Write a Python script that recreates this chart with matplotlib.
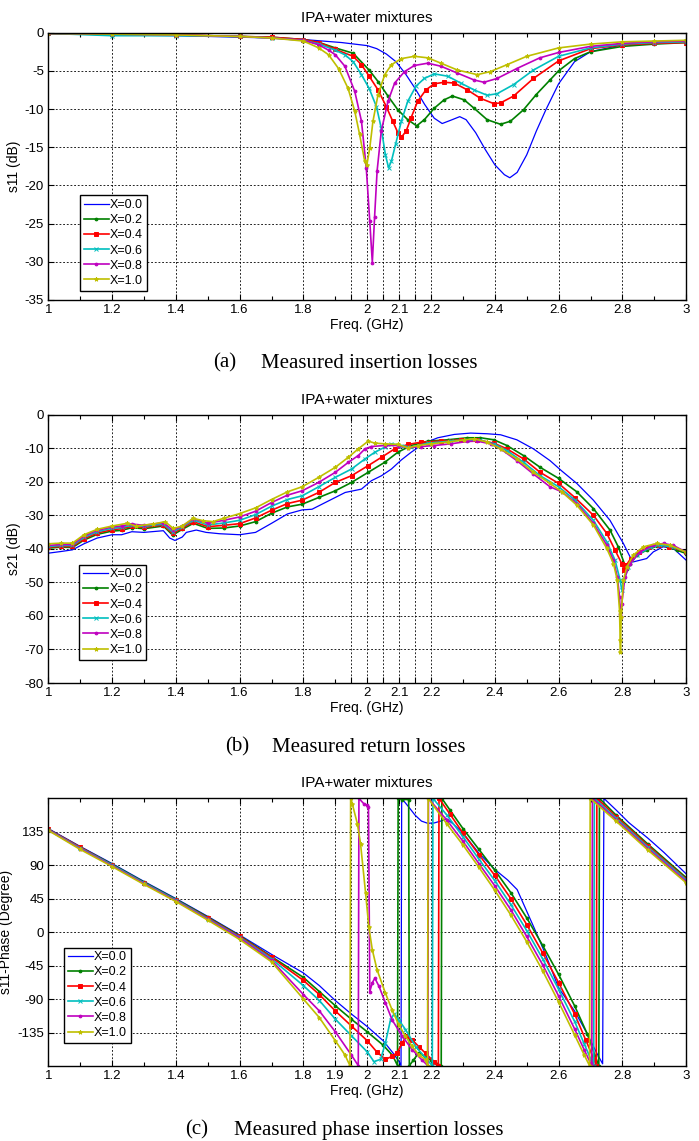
import matplotlib
matplotlib.use("Agg")
import matplotlib.pyplot as plt
from matplotlib.ticker import FixedLocator

plt.rcParams['font.family'] = ['Liberation Sans', 'DejaVu Sans']

LABELS = ["X=0.0", "X=0.2", "X=0.4", "X=0.6", "X=0.8", "X=1.0"]
COLORS = ["#0000ff", "#008000", "#ff0000", "#00bfbf", "#bf00bf", "#bfbf00"]
MARKERS = [None, ".", "s", "x", ".", "*"]

# ---------------- (a) s11 magnitude (dB) ----------------
A_F0 = [1.0, 1.2, 1.4, 1.6, 1.7, 1.8, 1.86, 1.92, 1.96, 2.0, 2.03, 2.06, 2.09, 2.12, 2.15, 2.18, 2.21, 2.235, 2.26, 2.29, 2.31, 2.34, 2.37, 2.40, 2.43, 2.447, 2.47, 2.50, 2.53, 2.56, 2.60, 2.65, 2.70, 2.80, 2.90, 3.0]
A_V0 = [-0.1, -0.3, -0.4, -0.6, -0.7, -0.9, -1.1, -1.3, -1.5, -1.7, -2.1, -2.8, -3.8, -5.4, -7.3, -9.4, -11.2, -11.9, -11.5, -11.0, -11.4, -13.1, -15.3, -17.3, -18.6, -19.0, -18.3, -16.0, -12.9, -10.1, -6.7, -3.8, -2.5, -1.6, -1.3, -1.2]
A_F2 = [1.0, 1.2, 1.4, 1.6, 1.7, 1.8, 1.85, 1.9, 1.956, 2.006, 2.034, 2.065, 2.096, 2.127, 2.155, 2.179, 2.21, 2.241, 2.267, 2.304, 2.335, 2.376, 2.418, 2.449, 2.49, 2.53, 2.573, 2.6, 2.65, 2.7, 2.8, 2.9, 3.0]
A_V2 = [-0.1, -0.2, -0.3, -0.5, -0.6, -0.9, -1.3, -2.0, -2.7, -4.9, -6.4, -8.3, -10.1, -11.4, -12.2, -11.4, -9.9, -8.8, -8.3, -8.8, -9.9, -11.4, -12.0, -11.6, -10.1, -8.1, -6.2, -5.0, -3.4, -2.5, -1.8, -1.5, -1.3]
A_F4 = [1.0, 1.2, 1.4, 1.6, 1.7, 1.8, 1.85, 1.9, 1.956, 1.982, 2.006, 2.034, 2.06, 2.08, 2.096, 2.107, 2.122, 2.137, 2.158, 2.184, 2.21, 2.241, 2.273, 2.314, 2.355, 2.397, 2.418, 2.459, 2.521, 2.6, 2.7, 2.8, 2.9, 3.0]
A_V4 = [-0.1, -0.2, -0.3, -0.5, -0.6, -0.9, -1.3, -2.2, -3.1, -4.2, -5.7, -7.5, -9.7, -11.6, -13.1, -13.7, -12.9, -11.2, -9.0, -7.5, -6.7, -6.5, -6.6, -7.5, -8.6, -9.3, -9.2, -8.3, -6.0, -3.7, -2.1, -1.6, -1.4, -1.3]
A_F6 = [1.0, 1.2, 1.4, 1.6, 1.7, 1.8, 1.85, 1.9, 1.93, 1.956, 1.982, 2.006, 2.029, 2.044, 2.057, 2.067, 2.076, 2.089, 2.107, 2.127, 2.153, 2.179, 2.21, 2.252, 2.293, 2.335, 2.376, 2.407, 2.459, 2.521, 2.6, 2.7, 2.8, 2.9, 3.0]
A_V6 = [-0.1, -0.4, -0.4, -0.5, -0.7, -1.0, -1.5, -2.3, -2.9, -3.8, -5.5, -7.3, -9.7, -12.5, -16.0, -17.7, -16.8, -14.6, -11.6, -9.0, -7.0, -6.0, -5.4, -5.7, -6.6, -7.5, -8.2, -8.0, -6.8, -4.9, -3.1, -2.0, -1.5, -1.3, -1.2]
A_F8 = [1.0, 1.2, 1.4, 1.6, 1.7, 1.8, 1.848, 1.879, 1.9, 1.93, 1.961, 1.982, 1.997, 2.008, 2.016, 2.023, 2.031, 2.044, 2.065, 2.086, 2.117, 2.148, 2.19, 2.231, 2.283, 2.335, 2.366, 2.407, 2.469, 2.541, 2.6, 2.7, 2.8, 2.9, 3.0]
A_V8 = [-0.1, -0.2, -0.3, -0.5, -0.7, -1.0, -1.6, -2.3, -2.9, -4.4, -7.7, -11.6, -17.7, -24.7, -30.1, -24.2, -18.1, -12.9, -9.0, -6.6, -5.1, -4.3, -4.0, -4.4, -5.3, -6.2, -6.5, -6.0, -4.7, -3.3, -2.6, -1.8, -1.4, -1.2, -1.1]
A_F10 = [1.0, 1.2, 1.4, 1.6, 1.7, 1.8, 1.848, 1.879, 1.91, 1.94, 1.961, 1.976, 1.992, 1.999, 2.008, 2.018, 2.034, 2.055, 2.076, 2.107, 2.148, 2.19, 2.231, 2.283, 2.345, 2.386, 2.438, 2.5, 2.6, 2.7, 2.8, 2.9, 3.0]
A_V10 = [-0.1, -0.2, -0.3, -0.5, -0.7, -1.1, -2.0, -2.9, -4.7, -7.3, -10.3, -13.3, -16.8, -17.3, -15.1, -11.6, -8.1, -5.5, -4.2, -3.4, -3.1, -3.3, -4.0, -4.9, -5.5, -5.1, -4.2, -3.1, -2.0, -1.5, -1.2, -1.1, -1.0]

# ---------------- (b) s21 magnitude (dB) ----------------
B_F0 = [1.0, 1.04, 1.076, 1.112, 1.153, 1.2, 1.23, 1.262, 1.3, 1.361, 1.381, 1.397, 1.42, 1.433, 1.464, 1.495, 1.537, 1.6, 1.65, 1.7, 1.75, 1.796, 1.827, 1.879, 1.931, 1.982, 2.013, 2.045, 2.076, 2.107, 2.138, 2.179, 2.221, 2.273, 2.324, 2.376, 2.418, 2.469, 2.521, 2.573, 2.61, 2.657, 2.709, 2.761, 2.803, 2.824, 2.834, 2.855, 2.876, 2.897, 2.928, 2.96, 3.0]
B_V0 = [-41.3, -40.8, -40.3, -38.5, -36.8, -35.8, -35.8, -34.9, -35.1, -34.6, -36.8, -37.5, -36.5, -35.1, -34.4, -35.1, -35.5, -35.8, -35.1, -32.4, -29.6, -28.4, -28.2, -25.7, -23.2, -22.2, -19.7, -18.2, -16.2, -13.5, -11.2, -8.5, -6.9, -5.9, -5.5, -5.7, -6.0, -7.5, -10.2, -13.7, -16.8, -20.5, -25.5, -31.5, -38.4, -42.4, -43.9, -43.4, -42.9, -40.9, -39.4, -39.9, -43.4]
B_F2 = [1.0, 1.04, 1.076, 1.112, 1.153, 1.2, 1.23, 1.262, 1.3, 1.361, 1.39, 1.42, 1.455, 1.5, 1.55, 1.6, 1.65, 1.7, 1.75, 1.796, 1.848, 1.9, 1.951, 2.003, 2.055, 2.096, 2.138, 2.19, 2.252, 2.314, 2.355, 2.397, 2.438, 2.49, 2.542, 2.6, 2.657, 2.709, 2.761, 2.787, 2.808, 2.814, 2.825, 2.845, 2.876, 2.908, 2.94, 2.97, 3.0]
B_V2 = [-39.8, -39.5, -39.6, -37.4, -35.7, -34.7, -34.5, -33.7, -34.0, -33.2, -35.9, -34.2, -32.4, -33.9, -33.8, -33.2, -31.9, -29.4, -27.5, -26.7, -24.7, -22.7, -20.2, -17.2, -14.2, -11.2, -9.2, -7.9, -7.5, -6.9, -6.9, -7.5, -9.2, -12.2, -15.7, -19.0, -23.0, -28.0, -34.4, -39.4, -44.9, -45.9, -44.4, -41.9, -40.4, -39.2, -39.2, -40.4, -41.4]
B_F4 = [1.0, 1.04, 1.076, 1.112, 1.153, 1.2, 1.23, 1.262, 1.3, 1.361, 1.39, 1.42, 1.455, 1.5, 1.55, 1.6, 1.65, 1.7, 1.75, 1.796, 1.848, 1.9, 1.951, 2.003, 2.045, 2.086, 2.127, 2.169, 2.231, 2.293, 2.345, 2.397, 2.438, 2.49, 2.542, 2.6, 2.652, 2.709, 2.751, 2.777, 2.798, 2.805, 2.812, 2.826, 2.852, 2.883, 2.914, 2.946, 3.0]
B_V4 = [-39.5, -39.3, -39.3, -37.0, -35.3, -34.3, -34.0, -33.3, -33.6, -32.9, -35.4, -33.8, -31.9, -33.4, -33.0, -32.5, -30.8, -28.5, -26.5, -25.5, -23.2, -20.2, -18.2, -15.2, -12.7, -10.2, -8.9, -8.2, -7.9, -7.5, -7.5, -8.5, -10.2, -13.2, -17.2, -20.5, -24.8, -30.0, -35.4, -40.4, -44.4, -46.4, -44.9, -42.9, -40.9, -39.4, -38.9, -39.4, -40.9]
B_F6 = [1.0, 1.04, 1.076, 1.112, 1.153, 1.2, 1.23, 1.262, 1.3, 1.361, 1.39, 1.42, 1.455, 1.5, 1.55, 1.6, 1.65, 1.7, 1.75, 1.796, 1.848, 1.9, 1.951, 1.993, 2.024, 2.055, 2.076, 2.107, 2.138, 2.19, 2.262, 2.314, 2.355, 2.397, 2.438, 2.49, 2.542, 2.6, 2.652, 2.709, 2.751, 2.777, 2.793, 2.798, 2.805, 2.819, 2.845, 2.887, 2.918, 2.96, 3.0]
B_V6 = [-39.3, -39.0, -39.0, -36.6, -34.9, -33.9, -33.6, -33.0, -33.3, -32.6, -35.0, -33.5, -31.4, -32.9, -32.3, -31.5, -29.8, -27.3, -25.3, -24.2, -21.5, -18.7, -16.2, -13.2, -11.2, -9.7, -8.7, -9.2, -9.7, -8.5, -7.9, -7.5, -7.7, -8.7, -10.7, -14.2, -18.2, -21.5, -25.5, -31.5, -37.9, -43.4, -49.4, -52.3, -49.4, -45.4, -41.9, -39.6, -38.9, -39.5, -40.9]
B_F8 = [1.0, 1.04, 1.076, 1.112, 1.153, 1.2, 1.23, 1.262, 1.3, 1.361, 1.39, 1.42, 1.455, 1.5, 1.55, 1.6, 1.65, 1.7, 1.75, 1.796, 1.848, 1.9, 1.941, 1.972, 1.993, 2.013, 2.055, 2.096, 2.127, 2.169, 2.21, 2.262, 2.314, 2.345, 2.387, 2.418, 2.469, 2.521, 2.573, 2.61, 2.657, 2.709, 2.751, 2.772, 2.784, 2.791, 2.793, 2.795, 2.798, 2.808, 2.824, 2.855, 2.897, 2.929, 2.96, 3.0]
B_V8 = [-39.0, -38.7, -38.7, -36.2, -34.5, -33.5, -33.2, -32.6, -33.0, -32.2, -34.4, -33.3, -31.0, -32.4, -31.5, -30.5, -28.8, -26.2, -24.0, -22.7, -20.2, -17.2, -14.2, -12.2, -10.2, -9.5, -9.2, -9.2, -9.9, -9.5, -9.2, -8.7, -8.0, -7.9, -8.7, -10.2, -13.7, -17.7, -21.5, -23.0, -26.5, -32.4, -38.9, -43.4, -48.4, -54.3, -59.3, -60.3, -56.3, -48.4, -44.4, -40.9, -38.9, -38.4, -39.0, -41.0]
B_F10 = [1.0, 1.04, 1.076, 1.112, 1.153, 1.2, 1.247, 1.275, 1.33, 1.366, 1.392, 1.42, 1.454, 1.485, 1.516, 1.55, 1.6, 1.65, 1.7, 1.75, 1.796, 1.848, 1.9, 1.941, 1.972, 2.003, 2.024, 2.055, 2.096, 2.127, 2.159, 2.2, 2.252, 2.304, 2.335, 2.376, 2.418, 2.469, 2.521, 2.573, 2.61, 2.657, 2.709, 2.751, 2.772, 2.784, 2.791, 2.793, 2.794, 2.796, 2.803, 2.814, 2.834, 2.866, 2.908, 2.949, 3.0]
B_V10 = [-38.5, -38.3, -38.3, -35.8, -34.2, -33.2, -32.4, -33.2, -32.6, -31.9, -33.9, -33.2, -30.9, -31.6, -31.9, -30.9, -29.5, -27.8, -25.3, -23.0, -21.5, -18.7, -15.7, -12.7, -10.2, -7.9, -8.5, -8.7, -8.9, -9.9, -9.2, -8.7, -8.2, -7.5, -7.2, -8.2, -10.2, -13.2, -17.2, -20.5, -23.0, -27.0, -32.9, -39.9, -44.4, -49.4, -58.4, -67.3, -70.7, -60.3, -49.4, -45.4, -41.9, -39.4, -38.4, -38.9, -41.0]

# ---------------- (c) s11 phase (degree) ----------------
C_F0 = [1.0, 1.1, 1.2, 1.3, 1.4, 1.5, 1.6, 1.7, 1.8, 1.85, 1.9, 1.95, 2.0, 2.05, 2.08, 2.1, 2.106, 2.108, 2.13, 2.15, 2.17, 2.19, 2.21, 2.23, 2.249, 2.27, 2.3, 2.35, 2.4, 2.44, 2.47, 2.5, 2.53, 2.56, 2.6, 2.65, 2.69, 2.72, 2.738, 2.742, 2.78, 2.82, 2.88, 2.93, 3.0]
C_V0 = [139, 115, 92, 68, 45, 21, -4, -30, -55, -72, -92, -110, -127, -146, -162, -174, -179.5, 179.5, 168, 157, 149, 146, 146.5, 149, 152, 145, 133, 106, 84, 70, 57, 28, -1, -31, -75, -106, -137, -163, -177, 179.5, 164, 147, 126, 107, 78]
C_F2 = [1.0, 1.1, 1.2, 1.3, 1.4, 1.5, 1.6, 1.7, 1.8, 1.85, 1.9, 1.95, 2.0, 2.05, 2.08, 2.095, 2.097, 2.11, 2.13, 2.132, 2.145, 2.162, 2.18, 2.2, 2.22, 2.232, 2.234, 2.26, 2.30, 2.35, 2.40, 2.45, 2.50, 2.55, 2.60, 2.65, 2.69, 2.715, 2.726, 2.728, 2.78, 2.88, 3.0]
C_V2 = [138, 114, 91, 67, 44, 20, -5, -33, -61, -80, -99, -117, -134, -152, -166, -179.5, 179.5, 178, 178, -179.5, -172, -162, -167, -172, -177, -179.5, 179.5, 163.5, 139, 111, 83, 53, 19, -18, -57, -99, -137, -167, -179.5, 179.5, 157, 118, 73]
C_F4 = [1.0, 1.1, 1.2, 1.3, 1.4, 1.5, 1.6, 1.7, 1.8, 1.85, 1.9, 1.95, 2.0, 2.03, 2.057, 2.078, 2.094, 2.11, 2.122, 2.141, 2.162, 2.183, 2.209, 2.223, 2.225, 2.26, 2.30, 2.35, 2.40, 2.45, 2.50, 2.55, 2.60, 2.65, 2.685, 2.71, 2.718, 2.72, 2.78, 2.88, 3.0]
C_V4 = [138, 114, 90, 66, 43, 19, -6, -34, -65, -84, -106, -126, -146, -161, -171, -167, -162, -149, -140, -145, -154, -163, -174, -179.5, 179.5, 158, 133, 104, 76, 45, 10, -28, -68, -110, -145, -170, -179.5, 179.5, 155, 116, 71]
C_F6 = [1.0, 1.1, 1.2, 1.3, 1.4, 1.5, 1.6, 1.7, 1.8, 1.85, 1.9, 1.95, 2.0, 2.021, 2.042, 2.057, 2.073, 2.084, 2.099, 2.12, 2.152, 2.183, 2.204, 2.206, 2.25, 2.30, 2.35, 2.40, 2.45, 2.50, 2.55, 2.60, 2.65, 2.68, 2.70, 2.71, 2.712, 2.78, 2.88, 3.0]
C_V6 = [137.5, 113, 90, 66, 43, 18, -7, -36, -72, -92, -117, -139, -161, -174, -171, -149, -118, -110, -118, -131, -154, -169, -179.5, 179.5, 157, 128, 98, 69, 37, 2, -36, -77, -120, -150, -170, -179.5, 179.5, 153, 114, 70]
C_F8 = [1.0, 1.1, 1.2, 1.3, 1.4, 1.5, 1.6, 1.7, 1.8, 1.85, 1.9, 1.95, 1.972, 1.974, 1.99, 2.0, 2.004, 2.008, 2.016, 2.024, 2.037, 2.057, 2.078, 2.11, 2.141, 2.172, 2.19, 2.192, 2.25, 2.30, 2.35, 2.40, 2.45, 2.50, 2.55, 2.60, 2.65, 2.68, 2.70, 2.704, 2.706, 2.78, 2.88, 3.0]
C_V8 = [137, 112, 89, 65, 42, 17, -8, -38, -84, -106, -134, -165, -179.5, 179.5, 172, 170, 168, -80, -68, -62, -73, -95, -118, -140, -158, -172, -179.5, 179.5, 150, 122, 92, 62, 30, -6, -44, -86, -130, -158, -176, -179.5, 179.5, 151, 112, 68]
C_F10 = [1.0, 1.1, 1.2, 1.3, 1.4, 1.5, 1.6, 1.7, 1.8, 1.85, 1.9, 1.93, 1.946, 1.948, 1.953, 1.969, 1.979, 1.995, 2.005, 2.016, 2.031, 2.057, 2.078, 2.099, 2.12, 2.141, 2.162, 2.183, 2.189, 2.191, 2.25, 2.30, 2.35, 2.40, 2.45, 2.50, 2.55, 2.60, 2.65, 2.68, 2.697, 2.699, 2.78, 2.88, 3.0]
C_V10 = [136.5, 111, 88, 64, 41, 16, -10, -40, -90, -115, -146, -165, -179.5, 179.5, 172.5, 145.7, 118.9, 51.8, 7, -24, -51, -82, -104.6, -124.7, -140, -153.7, -165, -171.6, -179.5, 179.5, 145, 117, 87, 56, 23, -13, -52, -94, -138, -165, -179.5, 179.5, 149, 110, 66]

TITLE = "IPA+water mixtures"
XLABEL = "Freq. (GHz)"
XT_AB = [1, 1.2, 1.4, 1.6, 1.8, 1.95, 2, 2.05, 2.1, 2.15, 2.2, 2.4, 2.6, 2.8, 3]
XL_AB = ["1", "1.2", "1.4", "1.6", "1.8", "", "2", "", "2.1", "", "2.2", "2.4", "2.6", "2.8", "3"]
XT_C = [1, 1.2, 1.4, 1.6, 1.8, 1.9, 1.95, 2, 2.05, 2.1, 2.15, 2.2, 2.4, 2.6, 2.8, 3]
XL_C = ["1", "1.2", "1.4", "1.6", "1.8", "1.9", "", "2", "", "2.1", "", "2.2", "2.4", "2.6", "2.8", "3"]
XMINOR = [1.1, 1.3, 1.5, 1.7, 1.9, 2.3, 2.5, 2.7, 2.9]
YT_A = [-35, -30, -25, -20, -15, -10, -5, 0]
YT_B = [-80, -70, -60, -50, -40, -30, -20, -10, 0]
YT_C = [-135, -90, -45, 0, 45, 90, 135]

fig = plt.figure(figsize=(6.99, 11.41), dpi=100)

def style(ax, xt, xl, yt, ylim, ylabel, leg_anchor):
    ax.set_xlim(1, 3)
    ax.set_ylim(*ylim)
    ax.xaxis.set_major_locator(FixedLocator(xt))
    ax.set_xticklabels(xl)
    ax.xaxis.set_minor_locator(FixedLocator(XMINOR))
    ax.set_yticks(yt)
    ax.set_yticklabels([str(v) for v in yt])
    ax.tick_params(which='both', direction='in', top=True, right=True,
                   labelsize=9.5, width=0.8, pad=3)
    ax.tick_params(which='major', length=4)
    ax.tick_params(which='minor', length=3)
    ax.grid(True, which='major', color='k', linestyle=(0, (2.2, 2.2)), linewidth=0.6)
    for s in ax.spines.values():
        s.set_linewidth(1.0)
    ax.set_title(TITLE, fontsize=11, pad=8)
    ax.set_xlabel(XLABEL, fontsize=10, labelpad=1)
    ax.set_ylabel(ylabel, fontsize=10, labelpad=3)
    leg = ax.legend(loc='lower left', bbox_to_anchor=leg_anchor, fontsize=9,
                    frameon=True, fancybox=False, edgecolor='k', framealpha=1,
                    handlelength=2.0, handletextpad=0.1, labelspacing=0.25,
                    borderpad=0.3, borderaxespad=0)
    leg.get_frame().set_linewidth(1.0)

def draw(ax, fs, vs):
    for f, v, c, m, lab in zip(fs, vs, COLORS, MARKERS, LABELS):
        ax.plot(f, v, color=c, marker=m, markersize=3 if m != "." else 4,
                linewidth=0.9 if m is None else 1.2, markeredgewidth=0.7, label=lab)

axA = fig.add_axes([0.069, 0.7371, 0.9127, 0.2343])
draw(axA, [A_F0, A_F2, A_F4, A_F6, A_F8, A_F10], [A_V0, A_V2, A_V4, A_V6, A_V8, A_V10])
style(axA, XT_AB, XL_AB, YT_A, (-35, 0), "s11 (dB)", (0.05, 0.035))

axB = fig.add_axes([0.069, 0.4014, 0.9127, 0.2352])
draw(axB, [B_F0, B_F2, B_F4, B_F6, B_F8, B_F10], [B_V0, B_V2, B_V4, B_V6, B_V8, B_V10])
style(axB, XT_AB, XL_AB, YT_B, (-80, 0), "s21 (dB)", (0.049, 0.087))

axC = fig.add_axes([0.069, 0.0657, 0.9127, 0.2349])
draw(axC, [C_F0, C_F2, C_F4, C_F6, C_F8, C_F10], [C_V0, C_V2, C_V4, C_V6, C_V8, C_V10])
style(axC, XT_C, XL_C, YT_C, (-180, 180), "s11-Phase (Degree)", (0.0245, 0.087))

CAPTIONS = [("(a)", "Measured insertion losses", 213, 261, 363),
            ("(b)", "Measured return losses", 225, 272, 747),
            ("(c)", "Measured phase insertion losses", 185, 234, 1130)]
for tag, txt, x1, x2, y in CAPTIONS:
    fig.text(x1 / 699, 1 - y / 1141, tag, family='Liberation Serif', fontsize=15,
             ha='left', va='center')
    fig.text(x2 / 699, 1 - y / 1141, txt, family='Liberation Serif', fontsize=15,
             ha='left', va='center')

fig.savefig("out.png", dpi=100)
